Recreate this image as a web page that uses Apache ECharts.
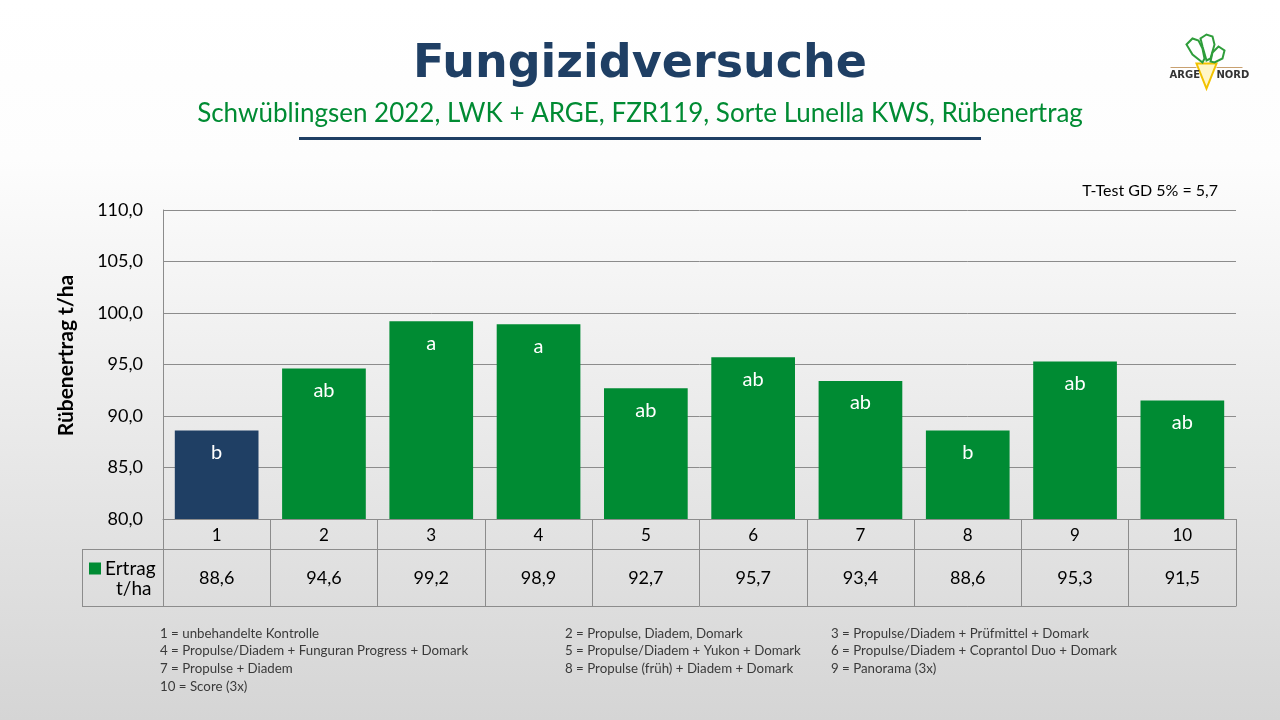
<!DOCTYPE html>
<html>
<head>
<meta charset="utf-8">
<title>Fungizidversuche</title>
<script src="https://cdn.jsdelivr.net/npm/echarts@6/dist/echarts.min.js"></script>
<style>
  html, body { margin: 0; padding: 0; }
  #main { width: 1280px; height: 720px; }
</style>
</head>
<body>
<div id="main"></div>
<script>
// Varianten (x-Achse) und Rübenertrag in t/ha
const varianten = ['1', '2', '3', '4', '5', '6', '7', '8', '9', '10'];
const ertrag = [88.6, 94.6, 99.2, 98.9, 92.7, 95.7, 93.4, 88.6, 95.3, 91.5];
// Signifikanzbuchstaben (T-Test)
const buchstaben = ['b', 'ab', 'a', 'a', 'ab', 'ab', 'ab', 'b', 'ab', 'ab'];
// Legende unter dem Diagramm, spaltenweise
const notesCol1 = ['1 = unbehandelte Kontrolle', '4 = Propulse/Diadem + Funguran Progress + Domark', '7 = Propulse + Diadem', '10 = Score (3x)'];
const notesCol2 = ['2 = Propulse, Diadem, Domark', '5 = Propulse/Diadem + Yukon + Domark', '8 = Propulse (früh) + Diadem + Domark'];
const notesCol3 = ['3 = Propulse/Diadem + Prüfmittel + Domark', '6 = Propulse/Diadem + Coprantol Duo + Domark', '9 = Panorama (3x)'];

const GREEN = '#008b33';
const NAVY = '#1f3f64';
const LINE = '#8c8c8c';
const FONT = 'Lato';

function fmt(v) {
  return Number(v).toFixed(1).replace('.', ',');
}

const myChart = echarts.init(document.getElementById('main'));

// Fußnoten als Textelemente
const noteItems = [];
[[notesCol1, 160], [notesCol2, 565], [notesCol3, 831]].forEach(function (col) {
  col[0].forEach(function (txt, i) {
    noteItems.push({
      type: 'text', left: col[1], top: 627 + i * 17.7,
      style: { text: txt, fill: '#3a3a3a', font: '13.3px ' + FONT }
    });
  });
});

const axisLine = { show: true, lineStyle: { color: LINE, width: 1 } };

myChart.setOption({
  backgroundColor: {
    type: 'linear', x: 0, y: 0, x2: 0, y2: 1,
    colorStops: [
      { offset: 0, color: '#ffffff' },
      { offset: 0.22, color: '#fdfdfd' },
      { offset: 1, color: '#d5d5d5' }
    ]
  },
  title: [
    {
      text: 'Fungizidversuche',
      left: 'center', top: 37,
      textStyle: { fontFamily: 'DejaVu Sans', fontSize: 46, fontWeight: 'bold', color: NAVY }
    },
    {
      text: 'Schwüblingsen 2022, LWK + ARGE, FZR119, Sorte Lunella KWS, Rübenertrag',
      left: 'center', top: 96,
      textStyle: { fontFamily: FONT, fontSize: 26, fontWeight: 'normal', color: GREEN }
    }
  ],
  legend: {
    data: ['Ertrag'],
    left: 84, top: 554,
    icon: 'rect', itemWidth: 12, itemHeight: 12, itemGap: 6,
    selectedMode: false,
    textStyle: { fontFamily: FONT, fontSize: 19, color: '#000', padding: [0, 0, 0, -1] }
  },
  grid: { left: 163, right: 44, top: 210, bottom: 201, outerBoundsMode: 'none' },
  xAxis: [
    {
      type: 'category', data: varianten, position: 'bottom',
      axisLine: axisLine,
      axisTick: { show: true, length: 30, interval: 0, alignWithLabel: false, lineStyle: { color: LINE } },
      axisLabel: { interval: 0, margin: 8, fontFamily: FONT, fontSize: 17, color: '#000' },
      splitLine: { show: false }
    },
    {
      type: 'category', data: varianten, position: 'bottom', offset: 30,
      axisLine: axisLine,
      axisTick: { show: true, length: 57, interval: 0, alignWithLabel: false, lineStyle: { color: LINE } },
      axisLabel: {
        interval: 0, margin: 20, fontFamily: FONT, fontSize: 18, color: '#000',
        formatter: function (v, i) { return fmt(ertrag[i]); }
      },
      splitLine: { show: false }
    },
    {
      type: 'category', data: varianten, position: 'bottom', offset: 87,
      axisLine: axisLine,
      axisTick: { show: false },
      axisLabel: { show: false },
      splitLine: { show: false }
    }
  ],
  yAxis: {
    type: 'value', min: 80, max: 110, interval: 5,
    name: 'Rübenertrag t/ha', nameLocation: 'middle', nameGap: 86, nameRotate: 90,
    nameTextStyle: { fontFamily: FONT, fontSize: 21, fontWeight: 'bold', color: '#000', padding: [0, 0, 0, 18] },
    axisLine: axisLine,
    axisTick: { show: false },
    axisLabel: { margin: 20, fontFamily: FONT, fontSize: 18, color: '#000', formatter: fmt },
    splitLine: { show: true, lineStyle: { color: LINE, width: 1 } }
  },
  series: [
    {
      name: 'Ertrag', type: 'bar', xAxisIndex: 0,
      barCategoryGap: '22%',
      itemStyle: { color: GREEN },
      data: ertrag.map(function (v, i) {
        return i === 0 ? { value: v, itemStyle: { color: NAVY } } : v;
      }),
      label: {
        show: true, position: 'insideTop', distance: 12,
        fontFamily: FONT, fontSize: 20, color: '#fff',
        formatter: function (p) { return buchstaben[p.dataIndex]; }
      }
    }
  ],
  graphic: [
    // Linie unter dem Titel
    { type: 'rect', shape: { x: 299, y: 137, width: 682, height: 3 }, style: { fill: NAVY } },
    {
      type: 'text', right: 62, top: 183,
      style: { text: 'T-Test GD 5% = 5,7', fill: '#000', font: '16px ' + FONT }
    },
    // Legendenzelle der Tabelle
    { type: 'line', shape: { x1: 82, y1: 549.5, x2: 163, y2: 549.5 }, style: { stroke: LINE, lineWidth: 1 } },
    { type: 'line', shape: { x1: 82, y1: 606.5, x2: 163, y2: 606.5 }, style: { stroke: LINE, lineWidth: 1 } },
    { type: 'line', shape: { x1: 82.5, y1: 549, x2: 82.5, y2: 607 }, style: { stroke: LINE, lineWidth: 1 } },
    {
      type: 'text', left: 116, top: 579,
      style: { text: 't/ha', fill: '#000', font: '19px ' + FONT }
    },
    // Logo ARGE NORD
    {
      type: 'group', left: 1168, top: 32,
      children: [
        { type: 'polygon', shape: { points: [[30, 31], [50, 31], [40, 56]] }, style: { fill: '#fff6c8', stroke: '#f2c200', lineWidth: 2 } },
        { type: 'polygon', shape: { points: [[36, 30], [26, 22], [20, 12], [26, 6], [32, 8], [36, 16], [38, 26]] }, style: { fill: 'none', stroke: '#2e9d3a', lineWidth: 2 } },
        { type: 'polygon', shape: { points: [[40, 28], [36, 14], [34, 6], [40, 2], [46, 4], [48, 12], [44, 26]] }, style: { fill: 'none', stroke: '#2e9d3a', lineWidth: 2 } },
        { type: 'polygon', shape: { points: [[44, 29], [46, 20], [52, 14], [58, 18], [56, 26], [48, 30]] }, style: { fill: 'none', stroke: '#2e9d3a', lineWidth: 2 } },
        { type: 'line', shape: { x1: 4, y1: 35, x2: 30, y2: 35 }, style: { stroke: '#c8a070', lineWidth: 1 } },
        { type: 'line', shape: { x1: 50, y1: 35, x2: 76, y2: 35 }, style: { stroke: '#c8a070', lineWidth: 1 } },
        { type: 'text', x: 3, y: 38, style: { text: 'ARGE', fill: '#333', font: 'bold 10px "DejaVu Sans"' } },
        { type: 'text', x: 50, y: 38, style: { text: 'NORD', fill: '#333', font: 'bold 10px "DejaVu Sans"' } }
      ]
    }
  ].concat(noteItems)
});
</script>
</body>
</html>
